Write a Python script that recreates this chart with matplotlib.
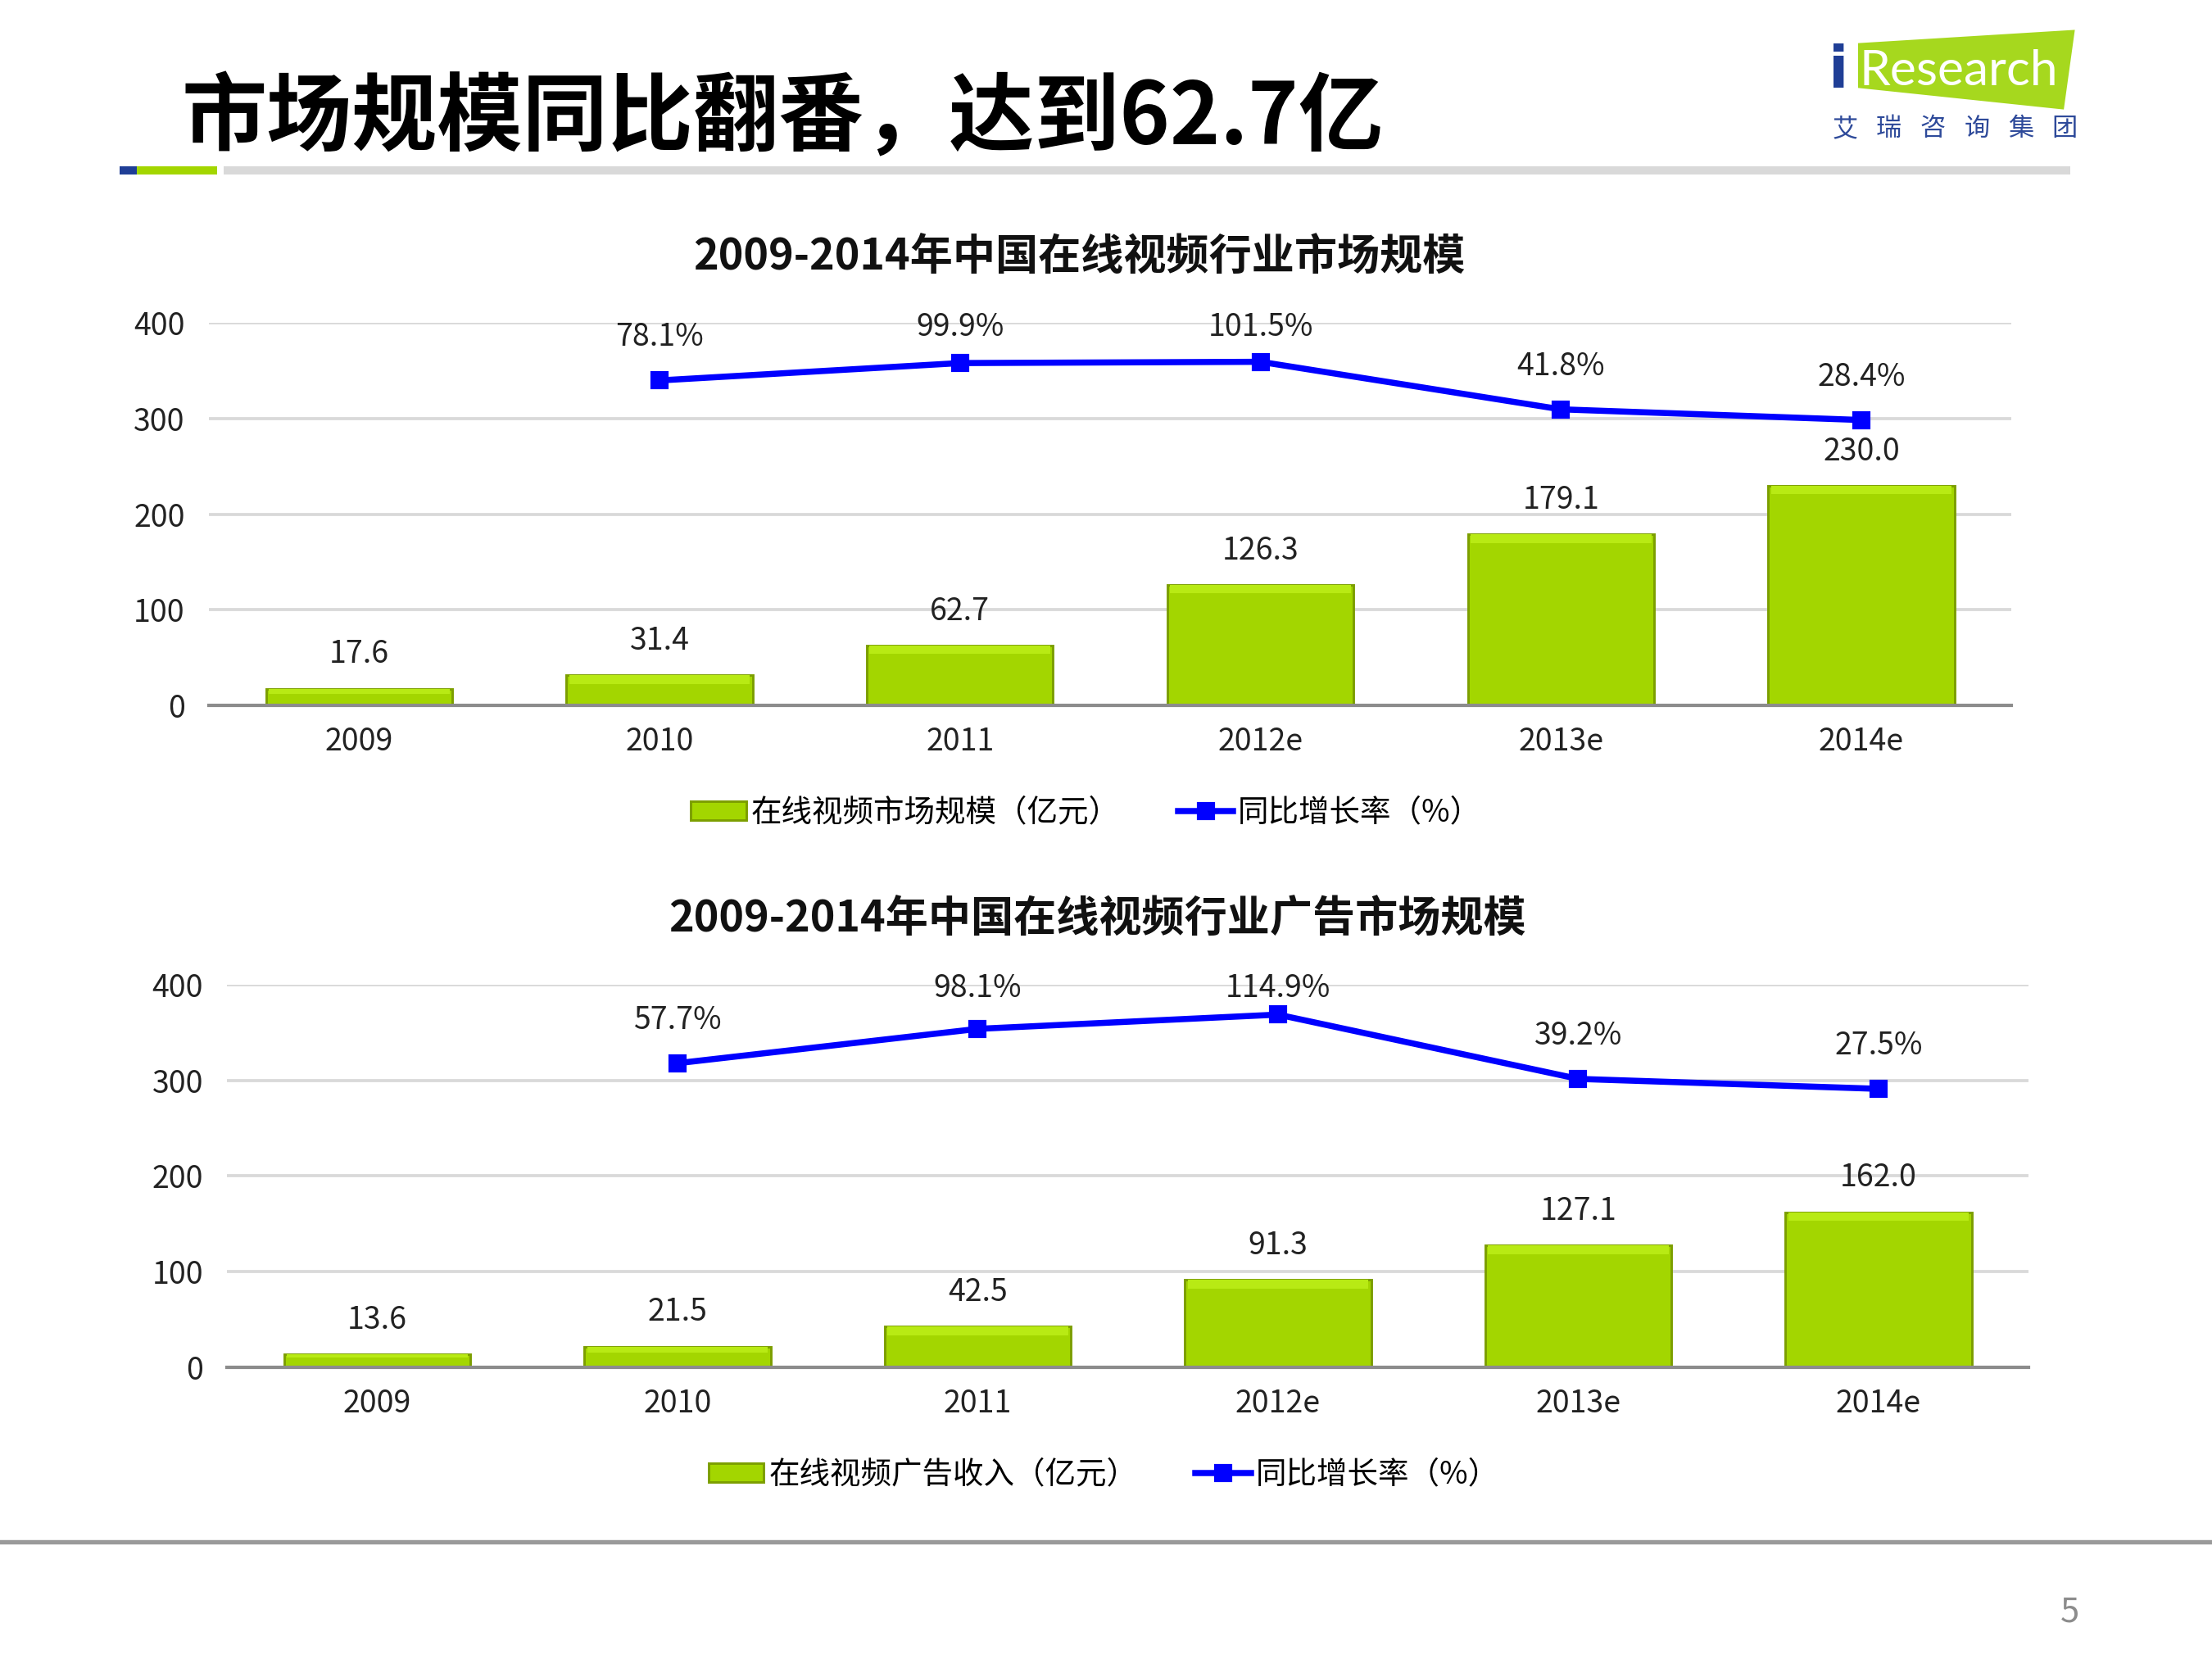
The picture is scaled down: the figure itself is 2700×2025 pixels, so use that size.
import numpy as np
import matplotlib.pyplot as plt
from matplotlib.patches import Rectangle, Polygon
from matplotlib.lines import Line2D

plt.rcParams['font.family'] = ['Noto Sans CJK SC', 'DejaVu Sans']

years = ["2009", "2010", "2011", "2012e", "2013e", "2014e"]
market_size = [17.6, 31.4, 62.7, 126.3, 179.1, 230.0]
market_growth = [78.1, 99.9, 101.5, 41.8, 28.4]
ad_revenue = [13.6, 21.5, 42.5, 91.3, 127.1, 162.0]
ad_growth = [57.7, 98.1, 114.9, 39.2, 27.5]

BAR = "#A3D600"
BAR_EDGE = "#7C9E00"
BAR_HI = "#B8EA14"
LINE = "#0000FF"

fig = plt.figure(figsize=(9, 6.75), dpi=300)


def draw_chart(rect, values, growth, title, title_xy, bar_label, legend_xy, g_lim):
    ax = fig.add_axes(rect)
    x = np.arange(len(years))
    w = 0.62
    ax.bar(x, values, width=w, color=BAR, edgecolor=BAR_EDGE, linewidth=0.7, zorder=2)
    # lighter bevel along the top of each bar
    band = np.minimum(9, np.array(values) * 0.3)
    ax.bar(x, band, bottom=np.array(values) - band, width=w * 0.97,
           color=BAR_HI, linewidth=0, zorder=3)
    for xi, v in zip(x, values):
        ax.annotate(f"{v:.1f}", (xi, v), xytext=(0, 10), textcoords="offset points",
                    ha="center", va="center", fontsize=9, color="#222222")
    ax.set_xlim(-0.5, len(years) - 0.5)
    ax.set_ylim(0, 400)
    ax.set_yticks([0, 100, 200, 300, 400])
    ax.set_xticks(x)
    ax.set_xticklabels(years)
    ax.tick_params(length=0, labelsize=9, colors="#222222")
    ax.tick_params(axis="y", pad=7)
    ax.tick_params(axis="x", pad=6)
    ax.grid(axis="y", color="#D9D9D9", linewidth=0.9, zorder=0)
    ax.set_axisbelow(True)
    for s in ["top", "right", "left"]:
        ax.spines[s].set_visible(False)
    ax.spines["bottom"].set_color("#8C8C8C")
    ax.spines["bottom"].set_linewidth(1.0)
    ax.spines["bottom"].set_zorder(4)

    ax2 = ax.twinx()
    gx = x[1:]
    ax2.plot(gx, growth, color=LINE, linewidth=1.8, marker="s", markersize=4.5, zorder=5)
    ax2.set_ylim(*g_lim)
    ax2.set_yticks([])
    for s in ax2.spines.values():
        s.set_visible(False)
    # growth labels sit above the markers but stay inside the plot area
    lo, hi = g_lim
    for xi, g in zip(gx, growth):
        y = (g - lo) / (hi - lo) * 400
        ax.text(xi, min(y + 45, 396), f"{g:.1f}%", ha="center", va="center",
                fontsize=9, color="#222222", zorder=6)

    fig.text(title_xy[0], title_xy[1], title, ha="center", va="center",
             fontsize=12.5, fontweight="bold", color="#111111")

    handles = [
        Rectangle((0, 0), 1, 1, facecolor=BAR, edgecolor=BAR_EDGE, linewidth=0.7),
        Line2D([], [], color=LINE, linewidth=1.8, marker="s", markersize=4.5),
    ]
    fig.legend(handles, [bar_label, "同比增长率（%）"], loc="center",
               bbox_to_anchor=legend_xy, ncol=2, frameon=False, fontsize=9,
               handlelength=1.8, handleheight=0.6, handletextpad=0.15,
               columnspacing=1.9)


draw_chart([0.0944, 0.5748, 0.815, 0.2304], market_size, market_growth,
           "2009-2014年中国在线视频行业市场规模", (0.488, 0.845),
           "在线视频市场规模（亿元）", (0.491, 0.510), (-330, 150))
draw_chart([0.1027, 0.1760, 0.8144, 0.2304], ad_revenue, ad_growth,
           "2009-2014年中国在线视频行业广告市场规模", (0.496, 0.446),
           "在线视频广告收入（亿元）", (0.499, 0.111), (-300, 150))

# page title and header bar
fig.text(0.082, 0.928, "市场规模同比翻番，达到62.7亿", ha="left", va="center",
         fontsize=25, fontweight="bold", color="#000000")
fig.patches.append(Rectangle((0.054, 0.895), 0.008, 0.005, transform=fig.transFigure,
                             facecolor="#1F3E96", edgecolor="none"))
fig.patches.append(Rectangle((0.062, 0.895), 0.036, 0.005, transform=fig.transFigure,
                             facecolor="#A3D600", edgecolor="none"))
fig.patches.append(Rectangle((0.101, 0.895), 0.835, 0.005, transform=fig.transFigure,
                             facecolor="#D9D9D9", edgecolor="none"))

# logo
fig.patches.append(Polygon([(0.840, 0.974), (0.938, 0.982), (0.933, 0.934), (0.840, 0.947)],
                           closed=True, transform=fig.transFigure,
                           facecolor="#A6D81E", edgecolor="none"))
fig.text(0.831, 0.957, "i", ha="center", va="center", fontsize=17, fontweight="bold",
         color="#1F3E96", family="DejaVu Sans")
fig.text(0.8405, 0.957, "Research", ha="left", va="center", fontsize=14.5,
         color="white", family="Lato")
for i, ch in enumerate("艾瑞咨询集团"):
    fig.text(0.834 + i * 0.0199, 0.9225, ch, ha="center", va="center",
             fontsize=7.5, color="#2E4A9A")

# footer
fig.add_artist(Line2D([0, 1], [0.0706, 0.0706], transform=fig.transFigure,
                      color="#9A9A9A", linewidth=1.3))
fig.text(0.9356, 0.028, "5", ha="center", va="center", fontsize=10, color="#8C8C8C")

fig.savefig("out.png", dpi=300)
